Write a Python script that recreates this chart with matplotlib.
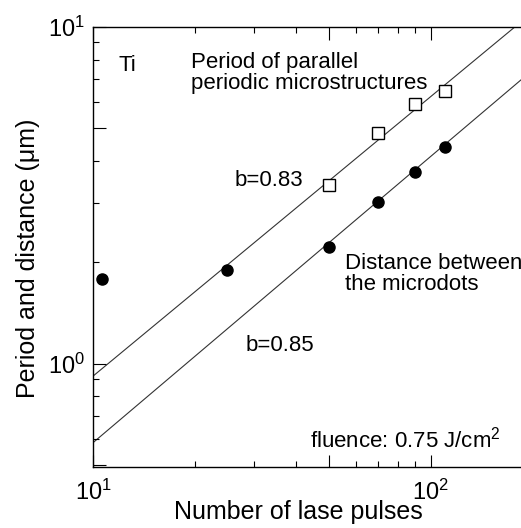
import numpy as np
import matplotlib
matplotlib.use("Agg")
import matplotlib.pyplot as plt
from matplotlib.ticker import LogLocator, LogFormatterSciNotation, NullFormatter

plt.rcParams["font.family"] = ["Liberation Sans", "DejaVu Sans"]
plt.rcParams["mathtext.fontset"] = "custom"
plt.rcParams["mathtext.rm"] = "Liberation Sans"
plt.rcParams["mathtext.it"] = "Liberation Sans:italic"

# period of parallel periodic microstructures (open squares)
period_pulses = [50, 70, 90, 110]
period_um = [3.4, 4.85, 5.9, 6.46]

# distance between the microdots (filled circles)
dots_pulses = [10.6, 25, 50, 70, 90, 110]
dots_um = [1.79, 1.90, 2.22, 3.03, 3.71, 4.41]

# power-law fits y = a * N**b
fit_b = [0.83, 0.85]
fit_a = [0.136, 0.0824]

fig = plt.figure(figsize=(5.21, 5.28), dpi=100)
ax = fig.add_axes([0.1785, 0.1155, 0.8434, 0.8333])
ax.set_xscale("log")
ax.set_yscale("log")
ax.set_xlim(10, 200)
ax.set_ylim(0.494, 10)

n = np.logspace(1, np.log10(200), 200)
for a, b in zip(fit_a, fit_b):
    ax.plot(n, a * n ** b, color="#333333", lw=0.8, zorder=1)

ax.plot(period_pulses, period_um, ls="none", marker="s", ms=9,
        mfc="white", mec="black", mew=1.0, zorder=3)
ax.plot(dots_pulses, dots_um, ls="none", marker="o", ms=8,
        mfc="black", mec="black", zorder=3)

for axis in (ax.xaxis, ax.yaxis):
    axis.set_major_locator(LogLocator(base=10, subs=(1.0, 5.0)))
    axis.set_major_formatter(LogFormatterSciNotation(labelOnlyBase=True))
    axis.set_minor_locator(LogLocator(base=10, subs=(2, 3, 4, 6, 7, 8, 9)))
    axis.set_minor_formatter(NullFormatter())

ax.tick_params(which="both", direction="in", top=True, right=False,
               width=0.8, labelsize=17)
ax.tick_params(which="major", length=9)
ax.tick_params(which="minor", length=4.5)
ax.tick_params(axis="x", which="major", pad=9)
ax.tick_params(axis="y", which="major", pad=6)
for s in ax.spines.values():
    s.set_linewidth(1.0)

ax.set_xlabel("Number of lase pulses", fontsize=18)
ax.set_ylabel("Period and distance (\u03bcm)", fontsize=18)
ax.xaxis.set_label_coords(0.4666, -0.102)
ax.xaxis.label.set_va("center")
ax.yaxis.set_label_coords(-0.148, 0.475)
ax.yaxis.label.set_va("center")

fs = 16
ax.text(11.86, 7.7, "Ti", fontsize=fs, va="center", ha="left")
ax.text(19.5, 7.3, "Period of parallel\nperiodic microstructures",
        fontsize=fs, va="center", ha="left", linespacing=0.95)
ax.text(26.3, 3.5, "b=0.83", fontsize=fs, va="center", ha="left")
ax.text(55.7, 1.85, "Distance between\nthe microdots",
        fontsize=fs, va="center", ha="left", linespacing=1.0)
ax.text(28.2, 1.13, "b=0.85", fontsize=fs, va="center", ha="left")
ax.text(43.9, 0.595, "fluence: 0.75 J/cm$^2$", fontsize=fs, va="center", ha="left")

fig.savefig("out.png", dpi=100)
